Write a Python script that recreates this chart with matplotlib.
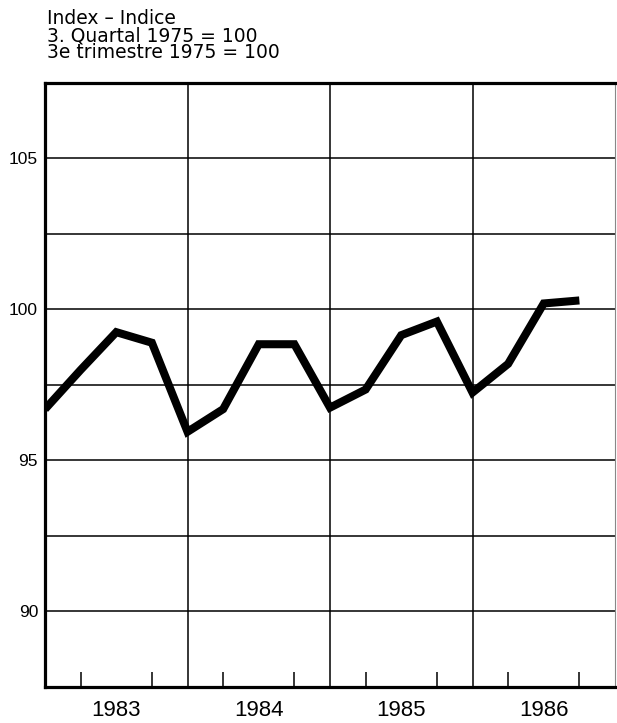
import matplotlib.pyplot as plt

plt.rcParams['font.family'] = ['Liberation Sans', 'DejaVu Sans']

# quarterly index values, 1983 Q1 to 1986 Q4 (plotted at quarter starts)
quarters = [1983.0, 1983.25, 1983.5, 1983.75,
            1984.0, 1984.25, 1984.5, 1984.75,
            1985.0, 1985.25, 1985.5, 1985.75,
            1986.0, 1986.25, 1986.5, 1986.75]
index_values = [96.7, 98.0, 99.25, 98.9,
                95.95, 96.7, 98.85, 98.85,
                96.75, 97.35, 99.15, 99.6,
                97.25, 98.2, 100.2, 100.3]
years = [1983, 1984, 1985, 1986]
y_labels = [90, 95, 100, 105]
y_grid = [90, 92.5, 95, 97.5, 100, 102.5, 105]

fig = plt.figure(figsize=(6.17, 7.23), dpi=100)
ax = fig.add_axes([45/617, 1 - 687/723, 570/617, 604/723])

ax.set_xlim(1983, 1987)
ax.set_ylim(87.5, 107.5)

# grid
for g in y_grid:
    ax.axhline(g, color='black', lw=1.1, zorder=1)
for yr in years[1:]:
    ax.axvline(yr, color='black', lw=1.1, zorder=1)

ax.plot(quarters, index_values, color='black', lw=5.8,
        solid_joinstyle='miter', solid_capstyle='butt', zorder=3)

# year labels in the middle of each year
ax.set_xticks([y + 0.5 for y in years])
ax.set_xticklabels([str(y) for y in years], fontsize=16)
ax.tick_params(axis='x', which='major', length=0, pad=9)

# quarter ticks inside the axis
ax.set_xticks([y + q for y in years for q in (0.25, 0.5, 0.75)], minor=True)
ax.tick_params(axis='x', which='minor', direction='in', length=10.8,
               width=1.1, color='black')

ax.set_yticks(y_labels)
ax.set_yticklabels([str(v) for v in y_labels], fontsize=12.5)
ax.tick_params(axis='y', which='both', length=0, pad=5)

for side in ['left', 'bottom', 'top']:
    ax.spines[side].set_linewidth(2.3)
ax.spines['right'].set_linewidth(0.8)
ax.spines['right'].set_color('#888888')

fig.text(47/617, 1 - 9/723,
         'Index \u2013 Indice\n3. Quartal 1975 = 100\n3e trimestre 1975 = 100',
         ha='left', va='top', fontsize=13.5, linespacing=0.88,
         family=['DejaVu Sans'])

fig.savefig('out.png', dpi=100)
